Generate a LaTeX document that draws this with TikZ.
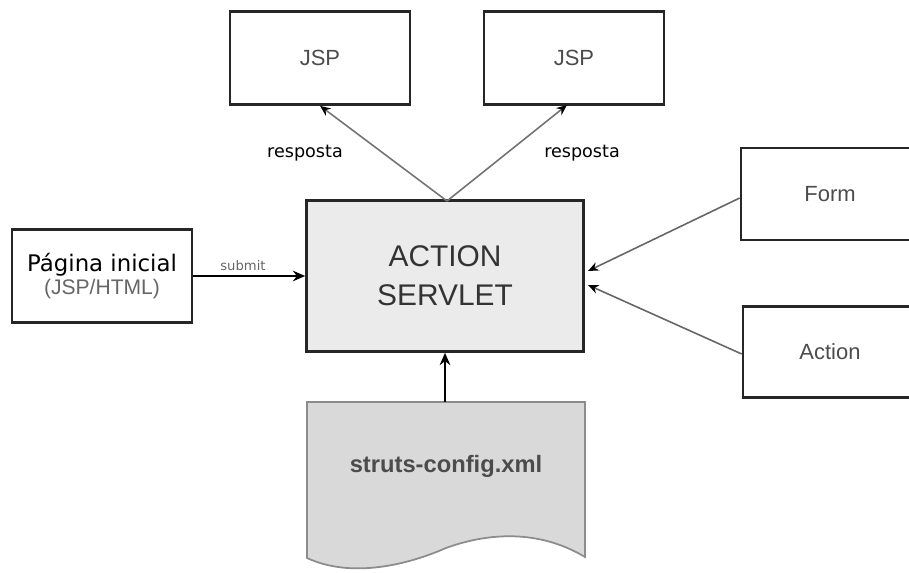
\documentclass[tikz,border=0pt]{standalone}
\usepackage{fontspec}
\setmainfont{Liberation Sans}
\newfontfamily\verdanaish{DejaVu Sans}
\tikzset{>=stealth}
\usetikzlibrary{positioning,arrows.meta}
\colorlet{boxLine}{black!85}
\colorlet{servletFill}{black!8}
\colorlet{configFill}{black!15}
\newlength{\pxu}
\setlength{\pxu}{0.02cm}
\tikzset{
  pagebox/.style={draw=boxLine,line width=1.5pt,fill=white,minimum width=180\pxu,minimum height=93\pxu,inner sep=0pt},
  resp/.style={draw=black!55,line width=0.9pt,-{Stealth[black,length=6pt,width=5pt]}},
  feed/.style={draw=black!60,line width=0.9pt,-{Stealth[black,length=6pt,width=5pt]}},
  thickarrow/.style={draw=black,line width=1.6pt,-{Stealth[length=7pt,width=6pt]}},
}

\begin{document}
\begin{tikzpicture}[x=0.02cm,y=-0.02cm]
    \useasboundingbox (0,0) rectangle (909,573);

    % boxes
    \node[pagebox,text=black!70,font=\fontsize{12.5}{14}\selectfont] (jspA) at (320,58) {JSP};
    \node[pagebox,text=black!70,font=\fontsize{12.5}{14}\selectfont] (jspB) at (574,58) {JSP};
    \node[pagebox,fill=servletFill,minimum width=277\pxu,minimum height=151\pxu,align=center,
          text=black!80,font=\fontsize{17}{22}\selectfont] (servlet) at (445,276) {ACTION\\SERVLET};
    \node[pagebox,align=center] (inicial) at (102,276)
        {{\verdanaish\fontsize{13}{15}\selectfont Página inicial}\\[1pt]{\fontsize{12}{14}\selectfont\color{black!60}(JSP/HTML)}};
    \node[pagebox,minimum width=180\pxu,minimum height=92\pxu] (form) at (831,194) {};
    \node[black!70,font=\fontsize{12.5}{14}\selectfont] at (830,194) {Form};
    \node[pagebox,minimum width=180\pxu,minimum height=91\pxu] (action) at (833,352) {};
    \node[black!70,font=\fontsize{12.5}{14}\selectfont] at (830,352) {Action};

    % struts-config document
    \draw[draw=black!45,line width=1pt,fill=configFill]
        (307,402) -- (585,402) -- (585,557)
        .. controls (540,530) and (490,532) .. (446,548)
        .. controls (405,566) and (350,578) .. (307,558) -- cycle;
    \node[black!70,font=\fontsize{13.5}{15}\selectfont\bfseries] (config) at (446,466) {struts-config.xml};
    \coordinate (configtop) at (445,402);

    % connectors
    \coordinate (servlettop) at (447,201);
    \draw[resp] (servlettop) -- (jspA.south);
    \draw[resp] (servlettop) -- (567,105);
    \draw[thickarrow] (inicial.east) -- (servlet.west);
    \node[black!60,font=\verdanaish\fontsize{7.5}{9}\selectfont] at (243,266) {submit};
    \draw[thickarrow] (configtop) -- (servlet.south);
    \draw[feed] (form.west |- 0,198) -- (588,271);
    \draw[feed] (action.west |- 0,354) -- (588,285);

    \node[font=\verdanaish\fontsize{10}{12}\selectfont] at (305,153) {resposta};
    \node[font=\verdanaish\fontsize{10}{12}\selectfont] at (582,153) {resposta};

  \end{tikzpicture}
\end{document}
